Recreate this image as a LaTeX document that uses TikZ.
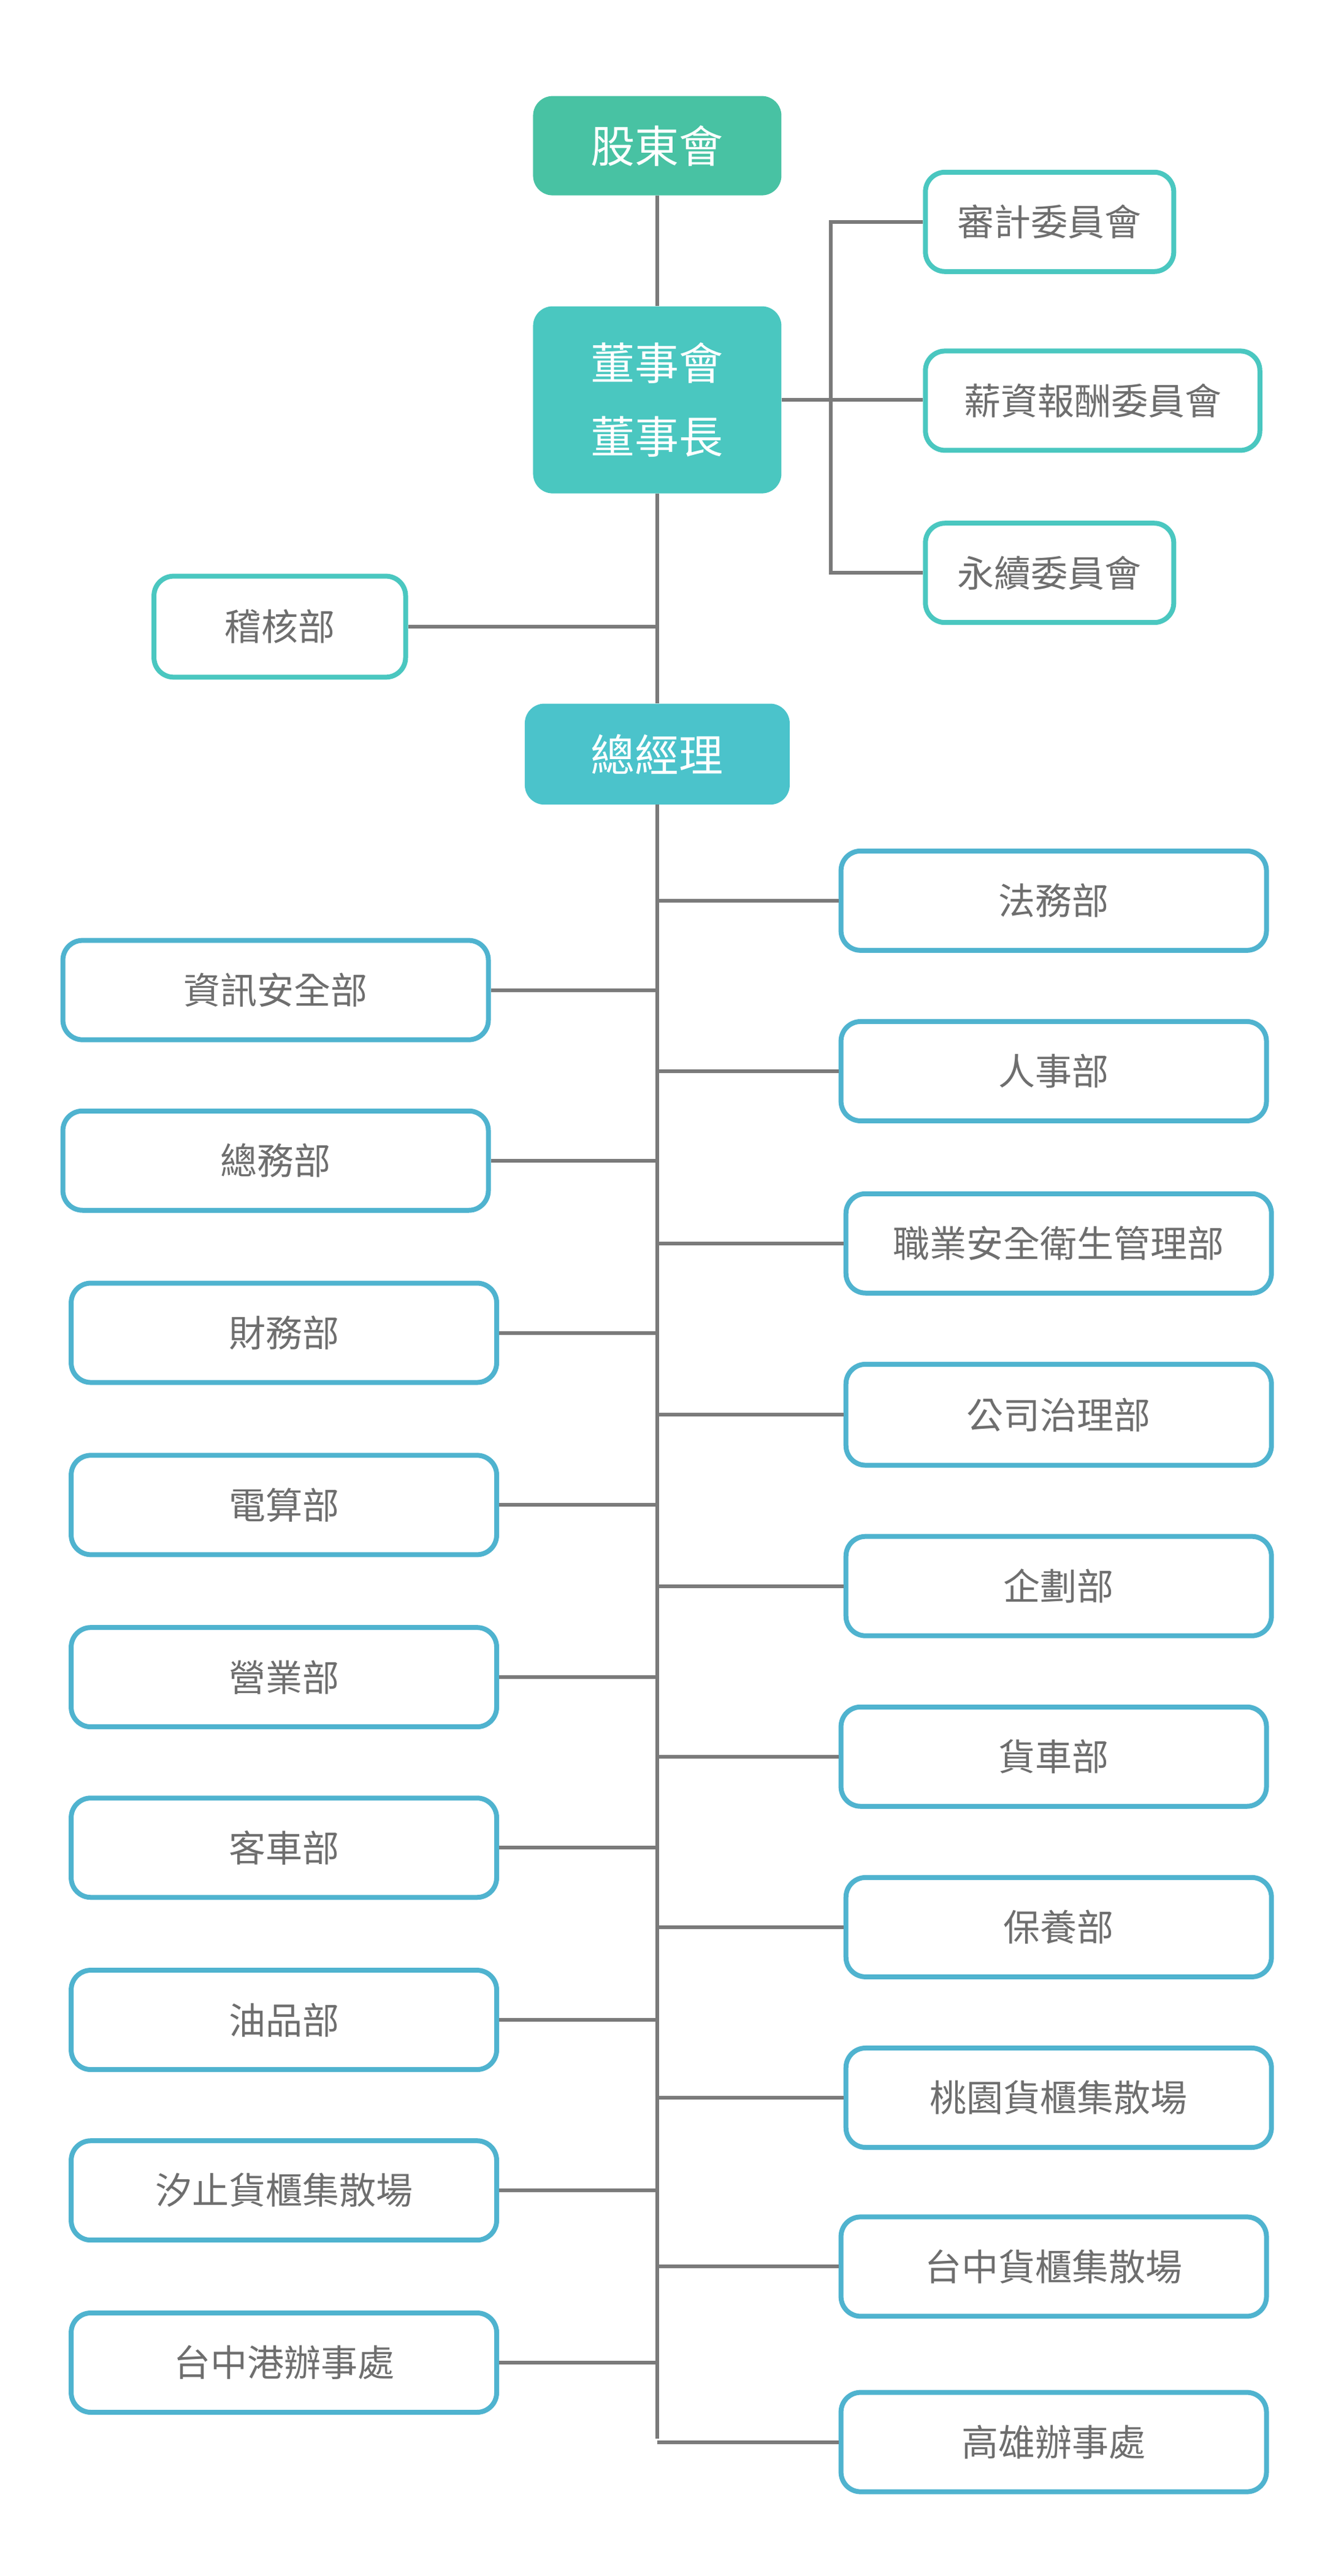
\documentclass[tikz,border=0pt]{standalone}
\usepackage{fontspec}
\setmainfont{Noto Sans CJK TC}
\begin{document}
\begin{tikzpicture}[x=2.7pt,y=-2.7pt,
  base/.style={rounded corners=32pt,inner sep=0pt,align=center},
  top/.style={base,fill=#1,draw=none,text=white,font=\fontsize{72}{120}\selectfont},
  sub/.style={base,fill=white,draw=#1,line width=8pt,text=txt,font=\fontsize{60}{64}\selectfont},
  ln/.style={draw=lin,line width=6pt}]
\definecolor{txt}{HTML}{6E6E6E}
\definecolor{lin}{HTML}{7A7A7A}
\definecolor{cA}{HTML}{48C2A3}
\definecolor{cB}{HTML}{4AC7C0}
\definecolor{cC}{HTML}{4BC3CB}
\definecolor{cD}{HTML}{4FB3CF}
\useasboundingbox (0,0) rectangle (800,1555.9);
\newcommand\mybx[7]{%
  \pgfmathsetmacro\w{(#4-#2)*2.7}\pgfmathsetmacro\h{(#5-#3)*2.7}%
  \node[#7,minimum width=\w pt,minimum height=\h pt] (#1) at ({(#2+#4)/2},{(#3+#5)/2}) {#6};}
\mybx{sh}{322}{58}{472}{118}{股東會}{top=cA}
\mybx{bd}{322}{185}{472}{298}{董事會\\董事長}{top=cB}
\mybx{a1}{559}{104}{709}{164}{審計委員會}{sub=cB}
\mybx{a2}{559}{212}{761}{272}{薪資報酬委員會}{sub=cB}
\mybx{a3}{559}{316}{709}{376}{永續委員會}{sub=cB}
\mybx{au}{93}{348}{245}{409}{稽核部}{sub=cB}
\mybx{gm}{317}{425}{477}{486}{總經理}{top=cC}
\coordinate (tr) at (397,0);
\coordinate (bx) at (502,0);
\coordinate (end) at (397,1473);
% right
\mybx{r1}{508}{514}{765}{574}{法務部}{sub=cD}
\mybx{r2}{508}{617}{765}{677}{人事部}{sub=cD}
\mybx{r3}{511}{721}{768}{781}{職業安全衛生管理部}{sub=cD}
\mybx{r4}{511}{824}{768}{885}{公司治理部}{sub=cD}
\mybx{r5}{511}{928}{768}{988}{企劃部}{sub=cD}
\mybx{r6}{508}{1031}{765}{1091}{貨車部}{sub=cD}
\mybx{r7}{511}{1134}{768}{1194}{保養部}{sub=cD}
\mybx{r8}{511}{1237}{768}{1297}{桃園貨櫃集散場}{sub=cD}
\mybx{r9}{508}{1339}{765}{1399}{台中貨櫃集散場}{sub=cD}
\mybx{r10}{508}{1445}{765}{1505}{高雄辦事處}{sub=cD}
% left
\mybx{l1}{38}{568}{295}{628}{資訊安全部}{sub=cD}
\mybx{l2}{38}{671}{295}{731}{總務部}{sub=cD}
\mybx{l3}{43}{775}{300}{835}{財務部}{sub=cD}
\mybx{l4}{43}{879}{300}{939}{電算部}{sub=cD}
\mybx{l5}{43}{983}{300}{1043}{營業部}{sub=cD}
\mybx{l6}{43}{1086}{300}{1146}{客車部}{sub=cD}
\mybx{l7}{43}{1190}{300}{1250}{油品部}{sub=cD}
\mybx{l8}{43}{1293}{300}{1353}{汐止貨櫃集散場}{sub=cD}
\mybx{l9}{43}{1397}{300}{1457}{台中港辦事處}{sub=cD}
% connectors
\draw[ln] (sh.south) -- (bd.north);
\draw[ln] (bd.south) -- (gm.north);
\draw[ln] (gm.south) -- (end);
\draw[ln] (bd.east) -- (bd.east -| a2.west);
\draw[ln] (a1.west) -- (a1.west -| bx) -- (a3.west -| bx) -- (a3.west);
\draw[ln] (au.east) -- (au.east -| tr);
\foreach \n in {r1,r2,r3,r4,r5,r6,r7,r8,r9,r10} \draw[ln] (\n.west) -- (\n.west -| tr);
\foreach \n in {l1,l2,l3,l4,l5,l6,l7,l8,l9} \draw[ln] (\n.east) -- (\n.east -| tr);
\end{tikzpicture}
\end{document}
